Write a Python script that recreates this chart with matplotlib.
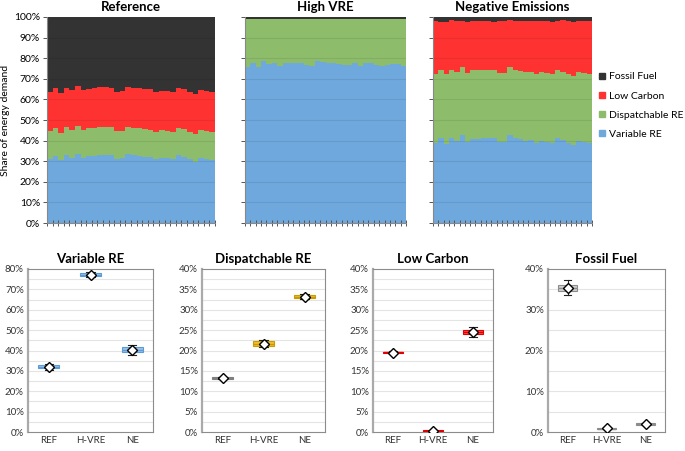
import matplotlib
matplotlib.use("Agg")
import matplotlib.pyplot as plt
from matplotlib.ticker import PercentFormatter, MultipleLocator
from matplotlib.lines import Line2D
import numpy as np

plt.rcParams['font.family'] = ['Lato', 'DejaVu Sans']

# ---- top panels: share per period (%) ----
ref_vre = [31, 32.5, 30.5, 33, 31.5, 33.5, 31.5, 32.5, 32.5, 33, 33, 33, 31, 31.5, 33.5,
           33, 32.5, 32, 32, 31, 31.5, 31.5, 31, 33, 32, 31, 29.5, 31.5, 31, 30.5]
ref_disp = [13.5, 13.5, 13, 13.5, 13.5, 13.5, 13.5, 13.5, 13.5, 13.5, 13.5, 13.5, 13.5, 13, 13,
            13, 13.5, 13.5, 13, 13, 13.5, 13, 13, 13, 13.5, 13, 13.5, 13.5, 13.5, 13.5]
ref_low = [19, 19.5, 19.5, 19, 19.5, 19.5, 19.5, 19, 19.5, 19.5, 19.5, 19, 19, 19.5, 19.5,
           19.5, 19.5, 19.5, 20, 19.5, 19, 19.5, 19.5, 19.5, 19.5, 19.5, 19.5, 19.5, 19.5, 19.5]
ref_fossil = [36.5, 34.5, 37, 34.5, 35.5, 33.5, 35.5, 35, 34.5, 34, 34, 34.5, 36.5, 36, 34,
              34.5, 34.5, 35, 35, 36.5, 36, 36, 36.5, 34.5, 35, 36.5, 37.5, 35.5, 36, 36.5]

hv_vre = [75.5, 77.5, 75.5, 78.5, 77, 77.5, 76, 77.5, 77.5, 77.5, 77.5, 76.5, 76, 78.5, 78,
          77.5, 77.5, 77, 76.5, 76.5, 77.5, 76, 77.5, 77.5, 76.5, 76, 76.5, 77, 77, 76]
hv_disp = [23.3, 21.3, 23.3, 20.3, 21.8, 21.3, 22.8, 21.3, 21.3, 21.3, 21.3, 22.3, 22.8, 20.3, 20.8,
           21.3, 21.3, 21.8, 22.3, 22.3, 21.3, 22.8, 21.3, 21.3, 22.3, 22.8, 22.3, 21.8, 21.8, 22.8]
hv_low = [0.2, 0.3, 0.4, 0.2, 0.3, 0.3, 0.2, 0.4, 0.3, 0.2, 0.3, 0.4, 0.3, 0.2, 0.3,
          0.3, 0.2, 0.3, 0.4, 0.3, 0.2, 0.3, 0.4, 0.3, 0.2, 0.3, 0.4, 0.3, 0.3, 0.4]
hv_fossil = [1.0, 0.9, 0.8, 1.0, 0.9, 0.9, 1.0, 0.8, 0.9, 1.0, 0.9, 0.8, 0.9, 1.0, 0.9,
             0.9, 1.0, 0.9, 0.8, 0.9, 1.0, 0.9, 0.8, 0.9, 1.0, 0.9, 0.8, 0.9, 0.9, 0.8]

ne_vre = [39, 41.5, 38.5, 41.5, 40, 42.5, 39.5, 41, 41, 41.5, 41.5, 41.5, 39.5, 39.5, 42.5,
          41.5, 41, 40, 40.5, 39, 40, 39.5, 39, 41.5, 40.5, 39, 38, 40, 39.5, 39]
ne_disp = [33.5, 33, 34, 33, 33.5, 33, 33.5, 33.5, 33.5, 33, 33, 33, 33.5, 33.5, 33,
           33, 33, 33.5, 33, 33.5, 33.5, 33.5, 33.5, 33, 33, 33.5, 33.5, 33.5, 33.5, 33.5]
ne_low = [25.5, 23, 25, 24, 24.5, 22.5, 24.5, 23.5, 23.5, 23.5, 23.5, 23, 25, 25, 23,
          23.5, 24, 24.5, 24.5, 25.5, 24.5, 25, 25, 23.5, 25, 25.5, 26, 24.5, 25, 25.5]
ne_fossil = [2, 2.5, 2.5, 1.5, 2, 2, 2.5, 2, 2, 2, 2, 2.5, 2, 2, 1.5,
             2, 2, 2, 2, 2, 2, 2, 2.5, 2, 1.5, 2, 2.5, 2, 2, 2]

scenarios = ["Reference", "High VRE", "Negative Emissions"]
series_names = ["Variable RE", "Dispatchable RE", "Low Carbon", "Fossil Fuel"]
stack_colors = ["#6fa8dc", "#8dbd6b", "#ff3232", "#333333"]

# ---- bottom panels: box stats (%): q1, q3, whislo, whishi, mean ----
cats = ["REF", "H-VRE", "NE"]
vre_stats = [(31.3, 32.8, 30.5, 33.5, 32.0), (76.8, 77.8, 76.0, 78.5, 77.3), (39.3, 41.5, 38.0, 42.5, 40.3)]
disp_stats = [(13.1, 13.5, 13.0, 13.5, 13.3), (21.0, 22.3, 20.8, 22.5, 21.7), (32.8, 33.7, 32.6, 33.9, 33.2)]
low_stats = [(19.4, 19.7, 19.3, 19.8, 19.5), (0.1, 0.5, 0.1, 0.5, 0.3), (24.0, 25.0, 23.3, 25.8, 24.5)]
fossil_stats = [(34.6, 36.0, 33.5, 37.3, 35.3), (0.7, 1.0, 0.7, 1.0, 0.9), (1.7, 2.2, 1.6, 2.3, 2.0)]

fig = plt.figure(figsize=(6.85, 4.51), dpi=100)
W, H = 685.0, 451.0


def axpos(x0, x1, y0, y1):
    return [x0 / W, (H - y1) / H, (x1 - x0) / W, (y1 - y0) / H]


top_data = [
    [ref_vre, ref_disp, ref_low, ref_fossil],
    [hv_vre, hv_disp, hv_low, hv_fossil],
    [ne_vre, ne_disp, ne_low, ne_fossil],
]
top_x = [(47, 215), (245, 406), (433, 592)]

for k, (name, data, (x0, x1)) in enumerate(zip(scenarios, top_data, top_x)):
    ax = fig.add_axes(axpos(x0, x1, 17, 223))
    n = len(data[0])
    edges = np.arange(n + 1) - 0.5
    bottom = np.zeros(n)
    for vals, col in zip(data, stack_colors):
        top = bottom + np.array(vals)
        ax.fill_between(edges, np.append(bottom, bottom[-1]), np.append(top, top[-1]),
                        step="post", color=col, lw=0, zorder=1)
        bottom = top
    ax.set_xlim(-0.5, n - 0.5)
    ax.set_ylim(0, 100)
    ax.yaxis.set_major_locator(MultipleLocator(10))
    ax.yaxis.set_major_formatter(PercentFormatter(decimals=0))
    for yy in range(10, 100, 10):
        ax.axhline(yy, color="#000000", alpha=0.08, lw=0.8, zorder=2)
    ax.set_xticks(edges)
    ax.set_xticklabels([])
    ax.tick_params(axis="x", direction="inout", length=4, width=0.7, color="#555555")
    ax.tick_params(axis="y", direction="out", length=3, width=0.7, color="#555555",
                   labelsize=7.5, pad=2)
    if k > 0:
        ax.set_yticklabels([])
    for s in ["top", "right"]:
        ax.spines[s].set_visible(False)
    ax.spines["left"].set_color("#888888")
    ax.spines["bottom"].set_color("#888888")
    ax.set_title(name, fontsize=9.5, fontweight="bold", pad=4)
    if k == 0:
        ax.set_ylabel("Share of energy demand", fontsize=7.5, labelpad=3)

handles = [Line2D([], [], marker="s", ls="none", color=c, markersize=5)
           for c in stack_colors[::-1]]
fig.legend(handles, series_names[::-1], loc="upper left", bbox_to_anchor=(592 / W, 1 - 68 / H),
           frameon=False, fontsize=7.5, handletextpad=0.0, handlelength=1.2,
           labelspacing=0.95, borderaxespad=0)

box_panels = [
    ("Variable RE", vre_stats, (28, 153), 80, 10, 5, ["#9dc3e6"] * 3, ["#5b9bd5"] * 3),
    ("Dispatchable RE", disp_stats, (202, 325), 40, 5, 2.5,
     ["#bfbfbf", "#f2c12e", "#f2c12e"], ["#7f7f7f", "#c99a06", "#c99a06"]),
    ("Low Carbon", low_stats, (373, 493), 40, 5, 2.5, ["#ff5050"] * 3, ["#e00000"] * 3),
    ("Fossil Fuel", fossil_stats, (548, 665), 40, 10, 5, ["#d0d0d0"] * 3, ["#8c8c8c"] * 3),
]

for title, stats, (x0, x1), ymax, major, minor, faces, edgecols in box_panels:
    ax = fig.add_axes(axpos(x0, x1, 269, 432))
    bstats = []
    for (q1, q3, lo, hi, mean) in stats:
        bstats.append(dict(q1=q1, q3=q3, med=(q1 + q3) / 2, whislo=lo, whishi=hi,
                           mean=mean, fliers=[]))
    for i, st in enumerate(bstats):
        ax.bxp([st], positions=[i + 1], widths=0.5, showmeans=True, patch_artist=True,
               boxprops=dict(facecolor=faces[i], edgecolor=edgecols[i], lw=0.8),
               medianprops=dict(color=edgecols[i], lw=1.0),
               whiskerprops=dict(color="#222222", lw=0.8),
               capprops=dict(color="#222222", lw=0.8), capwidths=0.2,
               meanprops=dict(marker="D", markerfacecolor="white", markeredgecolor="black",
                              markersize=5.5, markeredgewidth=1.0),
               zorder=3)
    ax.set_xlim(0.5, 3.5)
    ax.set_ylim(0, ymax)
    ax.set_xticks([1, 2, 3])
    ax.set_xticklabels(cats)
    ax.yaxis.set_major_locator(MultipleLocator(major))
    ax.yaxis.set_major_formatter(PercentFormatter(decimals=0))
    yy = minor
    while yy < ymax - 1e-9:
        ax.axhline(yy, color="#e4e4e4", lw=0.8, zorder=0)
        yy += minor
    ax.tick_params(axis="both", length=0, labelsize=7, pad=3, labelcolor="#333333")
    for s in ax.spines.values():
        s.set_color("#8c8c8c")
        s.set_linewidth(0.8)
    ax.spines["left"].set_linewidth(1.6)
    ax.spines["left"].set_color("#aaaaaa")
    ax.set_title(title, fontsize=9.5, fontweight="bold", pad=4)

fig.savefig("out.png", dpi=100)
